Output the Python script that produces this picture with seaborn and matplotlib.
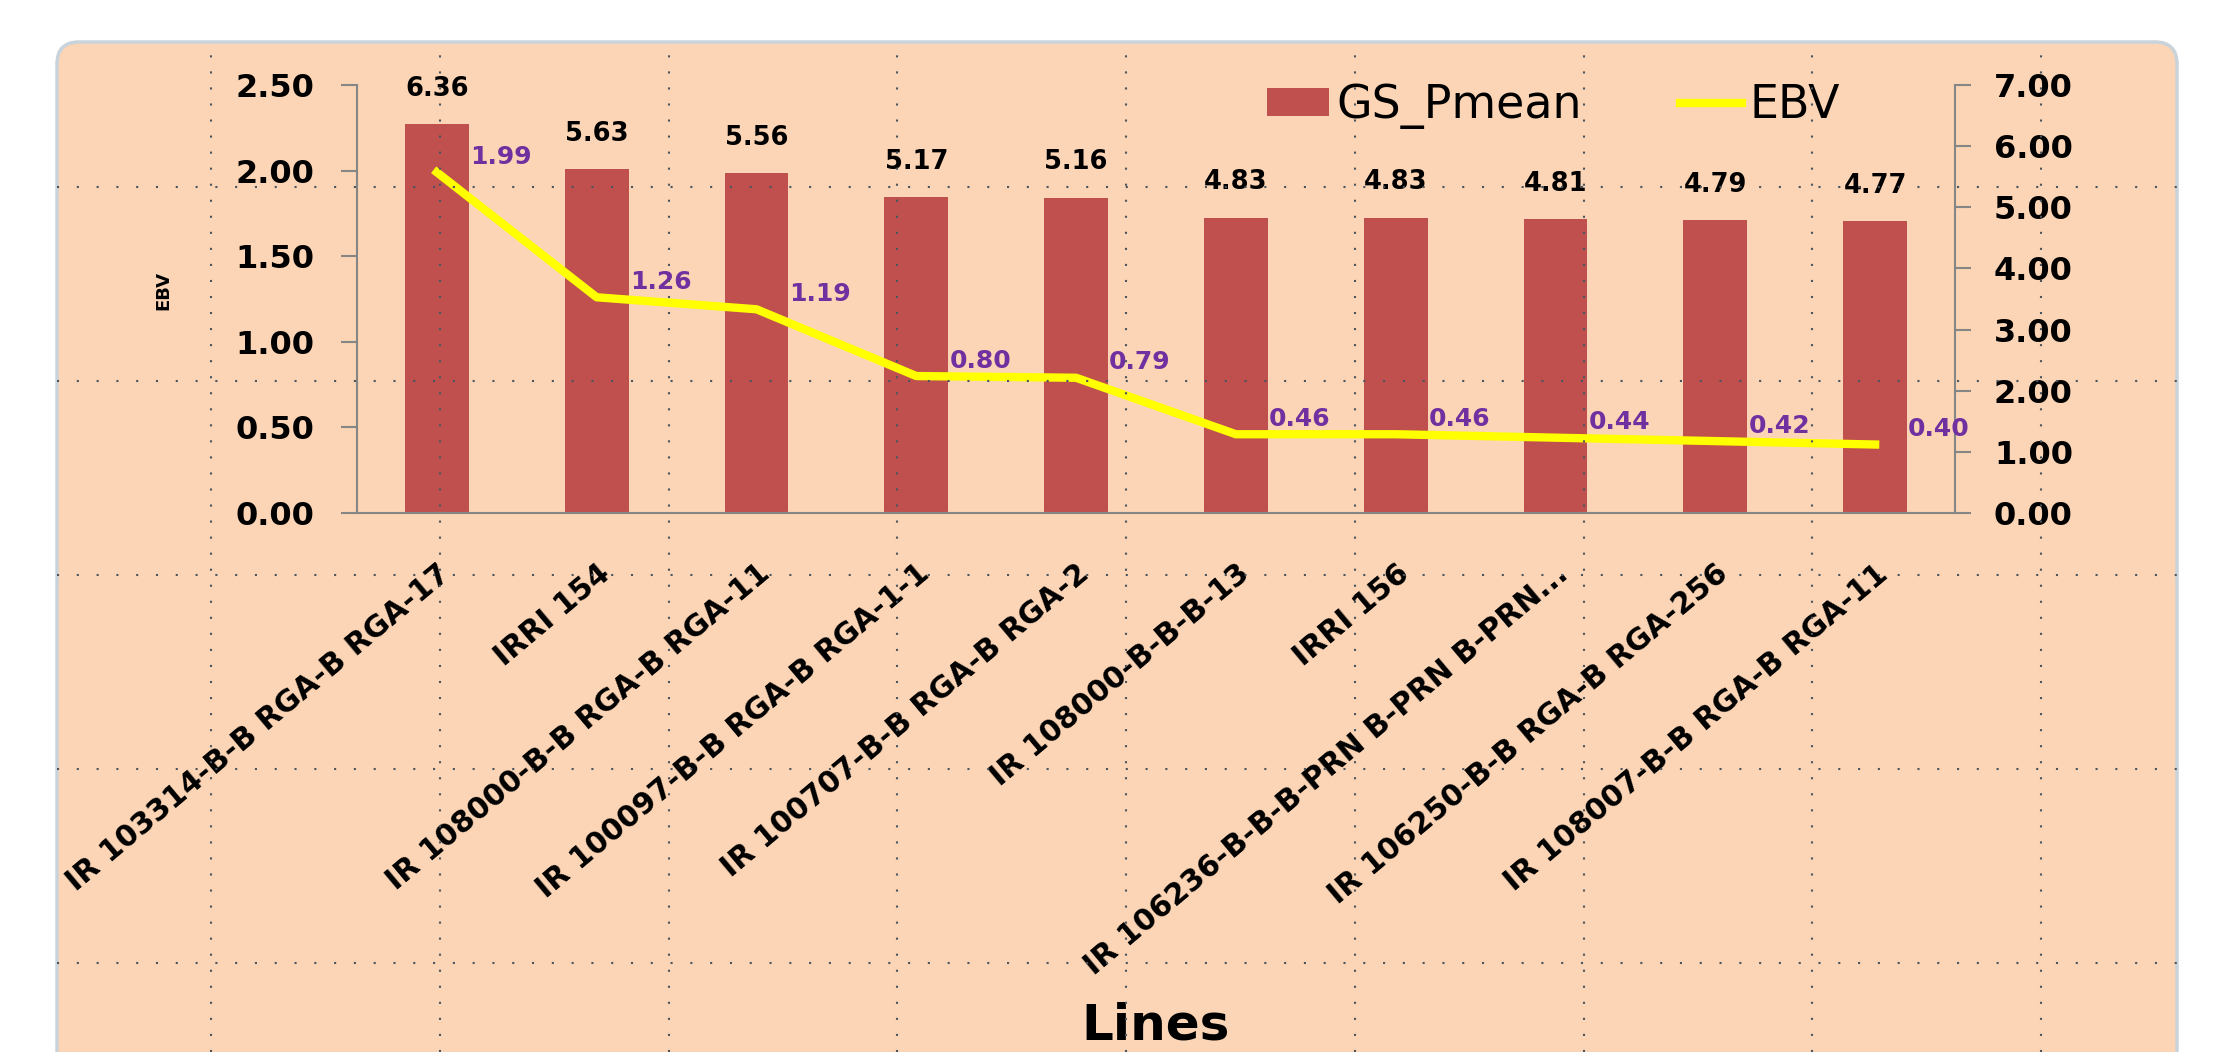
import matplotlib
matplotlib.use("Agg")
import matplotlib.pyplot as plt
import matplotlib.ticker as mtick
from matplotlib.lines import Line2D
from matplotlib.patches import FancyBboxPatch
import numpy as np
import seaborn as sns

# data
linhas = [
    "IR 103314-B-B RGA-B RGA-17",
    "IRRI 154",
    "IR 108000-B-B RGA-B RGA-11",
    "IR 100097-B-B RGA-B RGA-1-1",
    "IR 100707-B-B RGA-B RGA-2",
    "IR 108000-B-B-B-13",
    "IRRI 156",
    "IR 106236-B-B-B-PRN B-PRN B-PRN...",
    "IR 106250-B-B RGA-B RGA-256",
    "IR 108007-B-B RGA-B RGA-11",
]
gs_pmean = [6.36, 5.63, 5.56, 5.17, 5.16, 4.83, 4.83, 4.81, 4.79, 4.77]
ebv = [1.99, 1.26, 1.19, 0.80, 0.79, 0.46, 0.46, 0.44, 0.42, 0.40]
ticks_ebv = [0.0, 0.5, 1.0, 1.5, 2.0, 2.5]
ticks_gs = [0, 1, 2, 3, 4, 5, 6, 7]

plt.rcParams["font.family"] = ["DejaVu Sans"]
plt.rcParams["font.weight"] = "bold"

W, H = 2214, 1052
fig = plt.figure(figsize=(W / 100, H / 100), dpi=100)

# peach chart area with rounded corner
fundo = FancyBboxPatch((0.57, -0.5), 21.20, 10.60,
                       boxstyle="round,pad=0,rounding_size=0.22",
                       transform=fig.dpi_scale_trans, facecolor="#FBD5B5",
                       edgecolor="#C9D3DB", linewidth=2.5, zorder=-5)
fig.patches.append(fundo)

ax = fig.add_axes([357 / W, 1 - 513 / H, (1955 - 357) / W, (513 - 85) / H])
ax2 = ax.twinx()

sns.barplot(x=linhas, y=gs_pmean, ax=ax2, color="#C0504D", saturation=1,
            width=0.4, label="GS_Pmean")
sns.lineplot(x=np.arange(len(linhas)), y=ebv, ax=ax, color="#FFFF00",
             linewidth=6, label="EBV", legend=False)

# line above bars
ax.set_zorder(ax2.get_zorder() + 1)
ax.patch.set_visible(False)
ax2.patch.set_visible(False)
for a in (ax, ax2):
    if a.get_legend() is not None:
        a.get_legend().remove()

ax.set_xlim(-0.5, len(linhas) - 0.5)
ax.set_ylim(0, 2.5)
ax2.set_ylim(0, 7)
ax.set_yticks(ticks_ebv)
ax2.set_yticks(ticks_gs)
ax.yaxis.set_major_formatter(mtick.FormatStrFormatter("%.2f"))
ax2.yaxis.set_major_formatter(mtick.FormatStrFormatter("%.2f"))

cinza = "#868686"
ax.tick_params(axis="y", length=11.5, width=1.5, color=cinza, labelsize=23, pad=19)
ax2.tick_params(axis="y", length=11.5, width=1.5, color=cinza, labelsize=23, pad=16.5)
for s in ("top", "right"):
    ax.spines[s].set_visible(False)
for s in ("top", "left", "bottom"):
    ax2.spines[s].set_visible(False)
for sp in (ax.spines["left"], ax.spines["bottom"], ax2.spines["right"]):
    sp.set_color(cinza)
    sp.set_linewidth(1.5)

# category labels, slanted
ax.set_xticks(range(len(linhas)))
ax.set_xticklabels(linhas, rotation=40, ha="right", va="top",
                   rotation_mode="anchor", fontsize=21.5)
ax.tick_params(axis="x", length=0, pad=33)

# value labels
ax2.bar_label(ax2.containers[0], labels=[f"{v:.2f}" for v in gs_pmean],
              padding=16, fontsize=18.5, fontweight="bold", color="black")
for i, v in enumerate(ebv):
    ax.annotate(f"{v:.2f}", (i, v), xytext=(46, 11), textcoords="offset points",
                ha="center", va="center", color="#7030A0", fontsize=18,
                fontweight="bold")

ax.set_ylabel("EBV", fontsize=13, fontweight="bold")
ax.yaxis.set_label_coords(-0.1157, 0.519)
ax2.set_ylabel("")
ax.set_xlabel("Lines", fontsize=36, fontweight="bold")
ax.xaxis.set_label_coords(0.5, (513 - 1040) / (513 - 85))
ax.xaxis.label.set_va("baseline")

# legend
h1, l1 = ax2.get_legend_handles_labels()
h2, l2 = ax.get_legend_handles_labels()
fig.legend(h1 + h2, l1 + l2, loc="center left", bbox_to_anchor=(1267 / W, 1 - 106 / H),
           ncol=2, frameon=False, prop={"size": 33, "weight": "normal"},
           handlelength=1.36, handleheight=0.57, handletextpad=0.15,
           columnspacing=2.14, borderpad=0, borderaxespad=0)

# dotted screen grid overlay seen in the picture
for x in 211 + 228.75 * np.arange(9):
    fig.add_artist(Line2D([x / W, x / W], [0, 1 - 42 / H], transform=fig.transFigure,
                          color="#4A5560", lw=1.5, linestyle=(0, (1, 6.7)), zorder=20))
for y in 187 + 194 * np.arange(5):
    fig.add_artist(Line2D([57 / W, 2177 / W], [1 - y / H, 1 - y / H],
                          transform=fig.transFigure, color="#4A5560", lw=1.5,
                          linestyle=(0, (1, 8.5)), zorder=20))

fig.savefig("out.png", dpi=100)
